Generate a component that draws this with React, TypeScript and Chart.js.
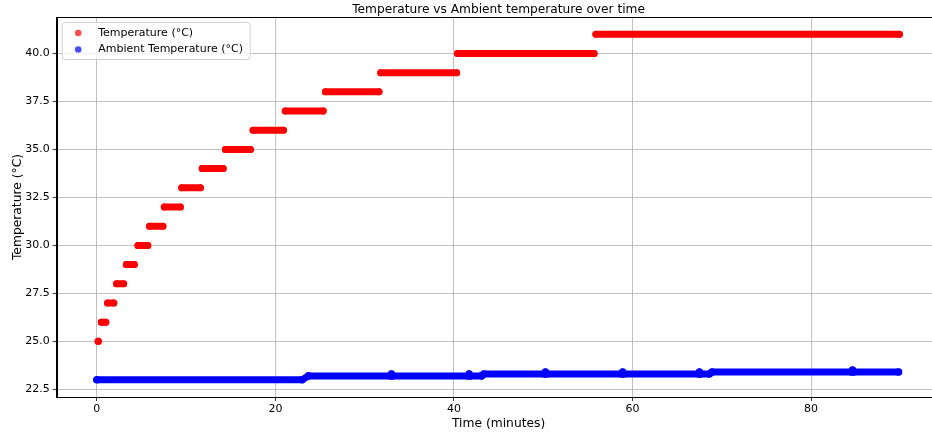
import React, { useEffect, useRef } from "react";
import { Chart, registerables } from "chart.js";

Chart.register(...registerables);

// Device temperature: plateau levels with their start / end times (minutes)
const tempLevels = [25, 26, 27, 28, 29, 30, 31, 32, 33, 34, 35, 36, 37, 38, 39, 40, 41];
const tempStart = [0.15, 0.5, 1.2, 2.2, 3.3, 4.6, 5.9, 7.55, 9.5, 11.8, 14.4, 17.5, 21.1, 25.6, 31.8, 40.4, 55.9];
const tempEnd = [0.15, 1.0, 1.9, 3.0, 4.2, 5.7, 7.4, 9.35, 11.6, 14.15, 17.2, 20.9, 25.35, 31.6, 40.3, 55.7, 89.9];

// Ambient temperature trace (minutes, °C)
const ambientTimes = [0, 23.0, 23.7, 32.9, 33.0, 33.1, 41.6, 41.7, 41.8, 43.1, 43.35, 50.15, 50.25, 50.35, 58.8, 58.9, 59.0, 67.4, 67.5, 67.6, 68.6, 68.9, 84.55, 84.65, 84.75, 89.8];
const ambientValues = [23.0, 23.0, 23.2, 23.2, 23.3, 23.2, 23.2, 23.3, 23.2, 23.2, 23.3, 23.3, 23.4, 23.3, 23.3, 23.4, 23.3, 23.3, 23.4, 23.3, 23.3, 23.4, 23.4, 23.5, 23.4, 23.4];

const xTicks = [0, 20, 40, 60, 80];
const yTicks = [22.5, 25, 27.5, 30, 32.5, 35, 37.5, 40];

const TITLE = "Temperature vs Ambient temperature over time";
const FONT = "'DejaVu Sans', sans-serif";

export default function App() {
  const ref = useRef<HTMLCanvasElement | null>(null);

  useEffect(() => {
    if (!ref.current) return;
    const tempData: any[] = [];
    tempLevels.forEach((v, i) => {
      tempData.push({ x: tempStart[i], y: v });
      tempData.push({ x: tempEnd[i], y: v });
      tempData.push({ x: tempEnd[i], y: null });
    });
    const ambData = ambientTimes.map((t, i) => ({ x: t, y: ambientValues[i] }));

    const framePlugin = {
      id: "frame",
      afterDraw(chart: any) {
        const { ctx, chartArea: a } = chart;
        ctx.save();
        ctx.strokeStyle = "#000";
        ctx.lineWidth = 1;
        ctx.strokeRect(Math.round(a.left) + 0.5, Math.round(a.top) + 0.5, a.right - a.left, a.bottom - a.top);
        // title
        ctx.fillStyle = "#000";
        ctx.font = `12.2px ${FONT}`;
        ctx.textAlign = "center";
        ctx.textBaseline = "alphabetic";
        ctx.fillText(TITLE, (a.left + a.right) / 2, a.top - 4);
        // legend
        const lx = a.left + 5.5, ly = a.top + 5.5, lw = 188, lh = 37;
        ctx.fillStyle = "rgba(255,255,255,0.8)";
        ctx.strokeStyle = "#d0d0d0";
        ctx.lineWidth = 1;
        ctx.beginPath();
        (ctx as any).roundRect(lx, ly, lw, lh, 3);
        ctx.fill();
        ctx.stroke();
        const cols = ["rgba(255,0,0,0.7)", "rgba(0,0,255,0.7)"];
        chart.data.datasets.forEach((ds: any, i: number) => {
          const cy = ly + 10.5 + i * 16.5;
          ctx.fillStyle = cols[i];
          ctx.beginPath();
          ctx.arc(lx + 16, cy, 3.3, 0, Math.PI * 2);
          ctx.fill();
          ctx.fillStyle = "#000";
          ctx.font = `11px ${FONT}`;
          ctx.textAlign = "left";
          ctx.textBaseline = "middle";
          ctx.fillText(ds.label, lx + 36, cy);
        });
        ctx.restore();
      },
    };

    const chart = new Chart(ref.current, {
      type: "line",
      data: {
        datasets: [
          {
            label: "Temperature (°C)",
            data: tempData,
            borderColor: "#ff0000",
            backgroundColor: "#ff0000",
            pointBackgroundColor: "#ff0000",
            pointBorderWidth: 0,
            pointRadius: 3.5,
            borderWidth: 7,
            borderCapStyle: "round",
            borderJoinStyle: "round",
            spanGaps: false,
            tension: 0,
          },
          {
            label: "Ambient Temperature (°C)",
            data: ambData,
            borderColor: "#0000ff",
            backgroundColor: "#0000ff",
            pointBackgroundColor: "#0000ff",
            pointBorderWidth: 0,
            pointRadius: 3.8,
            borderWidth: 7,
            borderCapStyle: "round",
            borderJoinStyle: "round",
            tension: 0,
          },
        ],
      },
      options: {
        animation: false,
        responsive: false,
        parsing: true,
        layout: { padding: { top: 17, right: 9.5, left: 0, bottom: 0 } },
        plugins: {
          legend: { display: false },
          title: { display: false },
          tooltip: { enabled: false },
        },
        scales: {
          x: {
            type: "linear",
            min: -4.5,
            max: 94.5,
            afterBuildTicks: (s: any) => {
              s.ticks = xTicks.map((v) => ({ value: v }));
            },
            afterFit: (s: any) => {
              s.height = 37;
            },
            ticks: {
              color: "#000",
              font: { family: FONT, size: 11 },
              padding: 2,
              maxRotation: 0,
              callback: (v: any) => String(v),
            },
            grid: { color: "#b0b0b0", lineWidth: 0.8, tickColor: "#000", tickLength: 4 },
            border: { color: "#000", width: 1 },
            title: {
              display: true,
              text: "Time (minutes)",
              color: "#000",
              font: { family: FONT, size: 12.3 },
              padding: { top: 0, bottom: 3 },
            },
          },
          y: {
            type: "linear",
            min: 22.1,
            max: 41.9,
            afterBuildTicks: (s: any) => {
              s.ticks = yTicks.map((v) => ({ value: v }));
            },
            afterFit: (s: any) => {
              s.width = 56.7;
            },
            ticks: {
              color: "#000",
              font: { family: FONT, size: 11 },
              padding: 3,
              callback: (v: any) => Number(v).toFixed(1),
            },
            grid: { color: "#b0b0b0", lineWidth: 0.8, tickColor: "#000", tickLength: 4 },
            border: { color: "#000", width: 1 },
            title: {
              display: true,
              text: "Temperature (°C)",
              color: "#000",
              font: { family: FONT, size: 12.3 },
              padding: { top: 10, bottom: 0 },
            },
          },
        },
      } as any,
      plugins: [framePlugin],
    });
    return () => chart.destroy();
  }, []);

  return (
    <div style={{ position: "fixed", left: 0, top: 0, width: 932, height: 434, overflow: "hidden", background: "#fff" }}>
      <canvas ref={ref} width={950} height={434} style={{ display: "block", width: 950, height: 434 }} />
    </div>
  );
}
